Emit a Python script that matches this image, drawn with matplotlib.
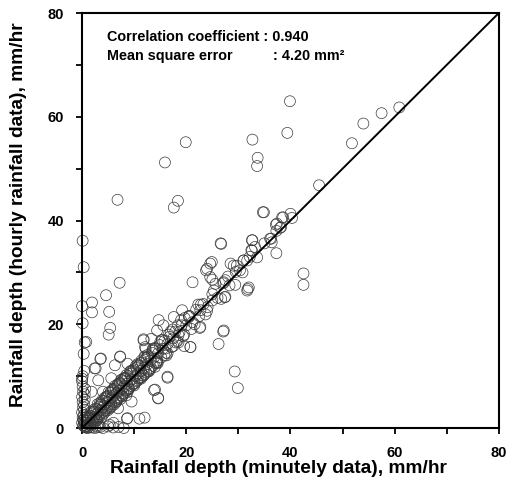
import matplotlib
matplotlib.use("Agg")
import matplotlib.pyplot as plt

plt.rcParams['font.family'] = ['Liberation Sans', 'DejaVu Sans']

# Outliers and scattered points (minutely, hourly)
outlier_x = [39.9, 60.9, 57.5, 54.0, 39.4, 32.7, 19.9, 51.8, 33.7, 33.6, 15.9, 45.5, 6.8, 18.4, 17.6,
             34.7, 0.1, 26.6, 0.3, 37.3, 42.5, 42.5, 7.2, 31.8, 27.4, 21.2, 4.6, 1.9, 1.9, 5.2,
             0.0, 0.1, 5.4, 5.1, 27.1, 26.2, 29.3, 29.9, 12.0, 11.0, 16.4, 14.6, 14.0, 20.8, 22.6,
             3.5, 7.3, 0.5, 0.3, 0.4, 2.6, 0.0, 8.6, 6.0]
outlier_y = [63.0, 61.8, 60.7, 58.7, 56.9, 55.6, 55.1, 54.9, 52.1, 50.5, 51.2, 46.8, 44.0, 43.8, 42.5,
             41.6, 36.1, 35.6, 31.0, 33.7, 29.8, 27.6, 28.0, 26.8, 25.2, 28.1, 25.6, 24.2, 22.3, 22.4,
             23.5, 20.2, 19.3, 18.0, 18.6, 16.2, 10.9, 7.7, 2.0, 1.8, 9.7, 5.8, 7.4, 15.6, 19.3,
             13.3, 13.8, 16.5, 14.3, 11.0, 11.5, 9.5, 1.8, 1.0]

# Moderate scatter around the band
mid_x = [0.8, 3.6, 7.3, 11.8, 12.2, 13.3, 16.0, 18.5, 19.6, 2.4, 6.3, 8.7, 5.6, 3.1, 1.8, 4.0, 7.6,
         14.0, 16.4, 13.8, 14.6, 8.5, 6.9, 8.7, 5.3, 3.1, 9.5,
         26.7, 24.6, 23.8, 25.0, 29.7, 31.7, 27.5, 31.7, 19.2, 25.0, 27.2, 22.7, 20.8, 14.7, 14.4,
         11.8, 12.1, 15.6, 17.6, 20.5, 22.7, 28.5,
         34.9, 38.6, 40.0, 37.4, 38.2, 32.6, 33.2, 36.1, 32.6, 29.1, 31.0, 24.9, 24.0, 24.6, 30.3,
         27.5, 32.0, 25.6, 27.2, 36.3, 37.2, 38.4, 40.3, 37.3, 32.7, 32.5]
mid_y = [16.6, 13.4, 13.7, 17.1, 15.3, 17.2, 15.3, 17.9, 15.8, 11.5, 12.1, 12.4, 9.6, 9.2, 7.0, 7.0, 9.2,
         11.8, 9.9, 7.3, 5.7, 6.3, 3.8, 1.9, 0.6, 0.6, 5.1,
         35.5, 31.7, 30.4, 28.6, 31.3, 32.3, 25.3, 26.5, 22.7, 24.6, 18.8, 19.5, 15.6, 20.8, 18.8,
         16.9, 15.6, 19.8, 21.4, 21.4, 22.7, 31.7,
         41.6, 40.6, 41.3, 39.4, 38.7, 36.2, 34.9, 36.5, 34.2, 31.3, 32.3, 32.0, 30.7, 29.1, 30.4,
         28.5, 27.1, 27.8, 28.1, 36.5, 39.2, 40.6, 40.5, 38.0, 36.2, 34.3]

# Dense band along the 1:1 line
band_x = [0.3, 0.5, 0.6, 0.8, 1.0, 1.1, 1.3, 1.4, 1.6, 1.7, 1.9, 2.0, 2.1, 2.3, 2.4, 2.6, 2.7, 2.9,
          3.0, 3.1, 3.3, 3.4, 3.6, 3.7, 3.9, 4.0, 4.1, 4.3, 4.4, 4.6, 4.7, 4.9, 5.0, 5.2, 5.3, 5.5,
          5.6, 5.8, 5.9, 6.1, 6.2, 6.4, 6.5, 6.7, 6.8, 7.0, 7.1, 7.3, 7.4, 7.6, 7.8, 7.9, 8.1, 8.3,
          8.4, 8.6, 8.8, 8.9, 9.1, 9.3, 9.5, 9.6, 9.8, 10.0, 10.2, 10.4, 10.5, 10.7, 10.9, 11.1,
          11.3, 11.5, 11.7, 11.9, 12.1, 12.3, 12.5, 12.7, 12.9, 13.1, 13.4, 13.6, 13.8, 14.1, 14.3,
          14.6, 14.9, 15.2, 15.5, 15.8, 16.1, 16.4, 16.8, 17.2, 17.5, 17.9, 18.3, 18.7, 19.1, 19.6,
          20.0, 20.6, 21.2, 21.9, 22.5, 23.3, 24.1, 25.0, 26.0, 27.1, 28.3, 29.5, 30.8, 32.2,
          33.6, 35.0, 36.4, 38.0,
          0.4, 0.9, 1.5, 2.2, 2.8, 3.5, 4.2, 4.8, 5.4, 6.0, 6.6, 7.2, 7.7, 8.2, 8.7, 9.2, 9.7,
          10.3, 10.8, 11.4, 12.0, 12.6, 13.2, 13.9, 14.5, 15.3, 16.2, 17.0, 18.0, 19.0,
          0.7, 1.2, 1.8, 2.5, 3.2, 3.8, 4.5, 5.1, 5.7, 6.3, 6.9, 7.5, 8.0, 8.5, 9.0, 9.9, 10.6,
          11.2, 11.8, 12.4, 13.0, 13.7, 14.4,
          1.0, 1.6, 2.3, 2.9, 3.4, 4.0, 4.6, 5.3, 5.9, 6.5, 7.1, 7.7, 8.3, 8.9, 9.5, 10.1, 10.7,
          11.3, 12.0, 12.7, 13.5, 14.2, 15.0, 15.8, 16.6, 17.5, 18.4, 19.4, 20.5, 21.6, 22.8,
          24.0, 25.3, 26.7, 28.0, 29.4, 31.0,
          0.2, 0.6, 1.1, 1.7, 2.4, 3.0, 3.7, 4.3, 4.9, 5.5, 6.2, 6.8, 7.4, 8.0, 8.7, 9.3, 10.0,
          10.6, 11.3, 12.0, 12.8, 13.6, 14.5, 15.4, 16.4, 17.4, 18.5, 19.7, 21.0, 22.3, 23.7]
band_y = [0.5, 0.2, 1.0, 0.4, 1.4, 0.7, 1.9, 1.0, 0.9, 2.3, 1.5, 2.8, 1.2, 2.0, 3.2, 1.8, 2.6, 3.6,
          2.2, 3.0, 4.1, 2.7, 3.5, 4.6, 3.0, 4.0, 5.2, 3.4, 4.6, 5.7, 3.8, 5.0, 6.2, 4.3, 5.4, 6.8,
          4.6, 5.9, 7.2, 5.0, 6.3, 7.6, 5.4, 6.8, 8.2, 5.9, 7.2, 8.6, 6.3, 7.5, 9.0, 6.7, 8.0, 9.6,
          7.2, 8.5, 10.0, 7.6, 9.0, 10.5, 8.1, 9.4, 11.0, 8.6, 10.0, 11.6, 9.0, 10.5, 12.0, 9.6,
          11.0, 12.6, 10.1, 11.6, 13.2, 10.7, 12.3, 13.8, 11.4, 13.0, 14.5, 12.0, 13.6, 15.3, 12.7,
          14.4, 16.0, 13.6, 15.3, 16.8, 14.5, 16.2, 17.6, 15.6, 17.3, 18.6, 16.8, 18.5, 19.8, 18.0,
          19.8, 21.6, 20.4, 22.8, 21.6, 23.9, 23.3, 25.8, 25.1, 27.9, 27.5, 30.1, 30.0, 33.0,
          32.9, 35.6, 35.8, 38.6,
          1.1, 0.3, 2.4, 3.1, 1.6, 4.5, 2.9, 6.1, 4.0, 7.5, 5.1, 8.7, 6.2, 9.6, 7.3, 10.8, 8.4,
          11.9, 9.5, 13.0, 10.4, 14.1, 11.6, 15.4, 12.5, 16.9, 14.0, 18.6, 16.5, 20.8,
          0.1, 2.0, 0.8, 3.7, 2.0, 5.3, 3.3, 6.9, 4.2, 8.1, 5.6, 9.3, 6.6, 10.2, 7.7, 11.3, 9.2,
          12.5, 10.1, 13.6, 11.2, 14.9, 13.0,
          2.2, 0.6, 3.5, 1.5, 4.8, 2.6, 6.0, 3.8, 7.4, 5.0, 8.5, 6.1, 9.7, 7.4, 10.9, 8.6, 12.1,
          9.8, 13.6, 11.0, 15.0, 12.5, 16.6, 14.0, 18.0, 15.8, 19.8, 17.7, 21.6, 20.0, 23.8,
          22.6, 26.5, 24.9, 29.2, 27.6, 32.3,
          1.6, 2.0, 0.1, 3.1, 1.0, 4.6, 2.1, 5.8, 3.4, 7.0, 4.6, 8.4, 5.6, 9.6, 6.9, 11.0, 8.2,
          12.3, 9.5, 13.8, 10.9, 15.3, 12.7, 17.0, 14.4, 19.0, 16.5, 21.2, 19.1, 23.8, 21.9]

# Points hugging the axes near the origin
axis_x = [0.0, 0.1, 0.0, 0.2, 0.1, 0.0, 0.2, 0.1, 0.0, 0.2, 0.3, 0.3, 0.4, 0.4, 0.5, 0.5, 0.6, 0.1,
          1.0, 2.0, 3.0, 4.0, 5.0, 6.0, 7.0, 8.0, 1.5, 2.5, 3.5]
axis_y = [1.0, 2.0, 3.0, 4.0, 5.0, 6.0, 7.0, 8.0, 9.0, 0.5, 1.5, 2.5, 3.5, 4.5, 5.5, 6.5, 7.5, 10.0,
          0.0, 0.1, 0.2, 0.0, 0.3, 0.1, 0.2, 0.0, 0.1, 0.0, 0.2]

line_vals = [0, 80]
x_ticks = [0, 20, 40, 60, 80]
minor_ticks = [10, 30, 50, 70]

fig = plt.figure(figsize=(5.10, 4.84), dpi=100)
ax = fig.add_axes([0.161, 0.1157, 0.817, 0.8573])

all_x = outlier_x + mid_x + band_x + axis_x
all_y = outlier_y + mid_y + band_y + axis_y
ax.scatter(all_x, all_y, s=62, facecolors='none', edgecolors='#3a3a3a', linewidths=0.5,
           clip_on=False, zorder=2)
ax.plot(line_vals, line_vals, color='black', lw=1.4, zorder=3)

ax.set_xlim(0, 80)
ax.set_ylim(0, 80)
ax.set_xticks(x_ticks)
ax.set_yticks(x_ticks)
ax.set_xticks(minor_ticks, minor=True)
ax.set_yticks(minor_ticks, minor=True)
ax.tick_params(which='both', direction='out', length=4, width=1.3, pad=9,
               labelsize=10.5, top=False, right=False)
for lab in ax.get_xticklabels() + ax.get_yticklabels():
    lab.set_fontweight('bold')
for sp in ax.spines.values():
    sp.set_linewidth(1.5)

ax.set_xlabel('Rainfall depth (minutely data), mm/hr', fontsize=13.8, fontweight='bold')
ax.set_ylabel('Rainfall depth (hourly rainfall data), mm/hr', fontsize=13.8, fontweight='bold')
ax.xaxis.set_label_coords(0.470, -0.078)
ax.yaxis.set_label_coords(-0.132, 0.514)

ax.text(4.8, 76.8, 'Correlation coefficient : 0.940', fontsize=10.4, fontweight='bold', va='top')
ax.text(4.8, 71.0, 'Mean square error', fontsize=10.4, fontweight='bold', va='baseline')
ax.text(36.6, 71.0, ': 4.20 mm²', fontsize=10.4, fontweight='bold', va='baseline')

fig.savefig('out.png', dpi=100)
